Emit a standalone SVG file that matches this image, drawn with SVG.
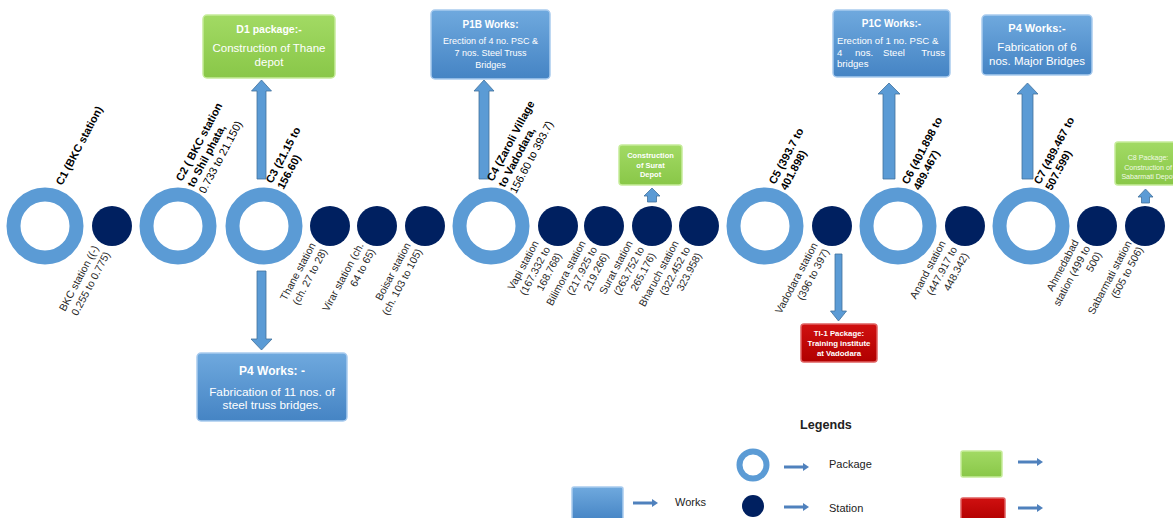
<svg xmlns="http://www.w3.org/2000/svg" width="1173" height="518" viewBox="0 0 1173 518">
<defs>
<linearGradient id="gBlue" x1="0" y1="0" x2="0" y2="1"><stop offset="0" stop-color="#6fa9de"/><stop offset="1" stop-color="#4584c4"/></linearGradient>
<linearGradient id="gGreen" x1="0" y1="0" x2="0" y2="1"><stop offset="0" stop-color="#a2da64"/><stop offset="1" stop-color="#89c748"/></linearGradient>
<linearGradient id="gRed" x1="0" y1="0" x2="0" y2="1"><stop offset="0" stop-color="#d01010"/><stop offset="1" stop-color="#b00000"/></linearGradient>
<style>
.ring{fill:none;stroke:#5b9bd5;stroke-width:14}
.dot{fill:#002060}
.arr{fill:#5b9bd5;stroke:#41719c;stroke-width:0.8}
.la{fill:none;stroke:#4f81bd;stroke-width:3}
.lah{fill:#4f81bd}
.bb{fill:url(#gBlue);stroke:#a9cbee;stroke-width:1.5}
.gb{fill:url(#gGreen);stroke:#c6ec9a;stroke-width:1.5}
.rb{fill:url(#gRed);stroke:#e06060;stroke-width:1.5}
text{font-family:"Liberation Sans",Arial,sans-serif}
.top{font-size:11px;font-weight:bold;fill:#000}
.topr{font-weight:normal}
.st{font-size:10.5px;fill:#262626;text-anchor:end}
.bt{fill:#fff;text-anchor:middle}
.lg{font-size:11px;fill:#222}
</style>
</defs>

<g id="connectors">
<path class="arr" d="M261.5,80 L271.5,91 L266,91 L266,179 L257,179 L257,91 L251.5,91 Z"/>
<path class="arr" d="M261.5,350 L272,339 L266,339 L266,271 L257,271 L257,339 L251,339 Z"/>
<path class="arr" d="M484,80 L494,91 L489,91 L489,179 L479,179 L479,91 L474,91 Z"/>
<path class="arr" d="M889,83 L900,94 L895,94 L895,179 L883,179 L883,94 L878,94 Z"/>
<path class="arr" d="M1027.5,83 L1038,94 L1033,94 L1033,179 L1022,179 L1022,94 L1017,94 Z"/>
<path class="arr" d="M838.5,321 L846.5,311 L842,311 L842,254 L835,254 L835,311 L830.5,311 Z"/>
<path class="arr" d="M652,188 L660,196 L656.5,196 L656.5,202 L647.5,202 L647.5,196 L644,196 Z"/>
<path class="arr" d="M1145.5,189 L1153,197 L1149.5,197 L1149.5,203 L1141.5,203 L1141.5,197 L1138,197 Z"/>
</g>

<g id="C1"><circle class="ring" cx="45" cy="226" r="31.5"/>
<text class="top" transform="translate(62,186) rotate(-62)">C1 (BKC station)</text></g>
<g id="C2"><circle class="ring" cx="178" cy="226" r="31.5"/>
<text class="top" transform="translate(182,182) rotate(-62)"><tspan x="0" y="0">C2 ( BKC station</tspan><tspan x="0" y="13">to Shil phata,</tspan><tspan x="0" y="26" class="topr">0.733 to 21.150)</tspan></text></g>
<g id="C3"><circle class="ring" cx="264" cy="226" r="31.5"/>
<text class="top" transform="translate(272,184) rotate(-62)"><tspan x="0" y="0">C3 (21.15 to</tspan><tspan x="0" y="13">156.60)</tspan></text></g>
<g id="C4"><circle class="ring" cx="491" cy="226" r="31.5"/>
<text class="top" transform="translate(493,182) rotate(-62)"><tspan x="0" y="0">C4 (Zaroli Village</tspan><tspan x="0" y="13">to Vadodara,</tspan><tspan x="0" y="26" class="topr">156.60 to 393.7)</tspan></text></g>
<g id="C5"><circle class="ring" cx="765" cy="226" r="31.5"/>
<text class="top" transform="translate(775,185) rotate(-62)"><tspan x="0" y="0">C5 (393.7 to</tspan><tspan x="0" y="13">401.898)</tspan></text></g>
<g id="C6"><circle class="ring" cx="898" cy="226" r="31.5"/>
<text class="top" transform="translate(908,185) rotate(-62)"><tspan x="0" y="0">C6 (401.898 to</tspan><tspan x="0" y="13">489.467)</tspan></text></g>
<g id="C7"><circle class="ring" cx="1031" cy="226" r="31.5"/>
<text class="top" transform="translate(1040,185) rotate(-62)"><tspan x="0" y="0">C7 (489.467 to</tspan><tspan x="0" y="13">507.599)</tspan></text></g>

<g id="S-BKC"><circle class="dot" cx="112" cy="226" r="20"/>
<text class="st" transform="translate(99,248) rotate(-62)"><tspan x="0" y="0">BKC station ((-)</tspan><tspan x="0" y="13">0.255 to 0.775)</tspan></text></g>
<g id="S-Thane"><circle class="dot" cx="330" cy="226" r="20"/>
<text class="st" transform="translate(316,245) rotate(-62)"><tspan x="0" y="0">Thane station</tspan><tspan x="0" y="13">(ch. 27 to 28)</tspan></text></g>
<g id="S-Virar"><circle class="dot" cx="377" cy="226" r="20"/>
<text class="st" transform="translate(364,245) rotate(-62)"><tspan x="0" y="0">Virar station (ch.</tspan><tspan x="0" y="13">64 to 65)</tspan></text></g>
<g id="S-Boisar"><circle class="dot" cx="425" cy="226" r="20"/>
<text class="st" transform="translate(411,245) rotate(-62)"><tspan x="0" y="0">Boisar station</tspan><tspan x="0" y="13">(ch. 103 to 105)</tspan></text></g>
<g id="S-Vapi"><circle class="dot" cx="558" cy="226" r="20"/>
<text class="st" transform="translate(539,243) rotate(-62)"><tspan x="0" y="0">Vapi station</tspan><tspan x="0" y="13">(167.332 to</tspan><tspan x="0" y="26">168.768)</tspan></text></g>
<g id="S-Bilimora"><circle class="dot" cx="604" cy="226" r="20"/>
<text class="st" transform="translate(586,243) rotate(-62)"><tspan x="0" y="0">Bilimora station</tspan><tspan x="0" y="13">(217.925 to</tspan><tspan x="0" y="26">219.266)</tspan></text></g>
<g id="S-Surat"><circle class="dot" cx="652" cy="226" r="20"/>
<text class="st" transform="translate(633,243) rotate(-62)"><tspan x="0" y="0">Surat station</tspan><tspan x="0" y="13">(263.752 to</tspan><tspan x="0" y="26">265.176)</tspan></text></g>
<g id="S-Bharuch"><circle class="dot" cx="699" cy="226" r="20"/>
<text class="st" transform="translate(679,243) rotate(-62)"><tspan x="0" y="0">Bharuch station</tspan><tspan x="0" y="13">(322.452 to</tspan><tspan x="0" y="26">323.958)</tspan></text></g>
<g id="S-Vadodara"><circle class="dot" cx="832" cy="226" r="20"/>
<text class="st" transform="translate(818,245) rotate(-62)"><tspan x="0" y="0">Vadodara station</tspan><tspan x="0" y="13">(396 to 397)</tspan></text></g>
<g id="S-Anand"><circle class="dot" cx="965" cy="226" r="20"/>
<text class="st" transform="translate(946,243) rotate(-62)"><tspan x="0" y="0">Anand station</tspan><tspan x="0" y="13">(447.917 to</tspan><tspan x="0" y="26">448.342)</tspan></text></g>
<g id="S-Ahmedabad"><circle class="dot" cx="1097" cy="226" r="20"/>
<text class="st" transform="translate(1079,242) rotate(-62)"><tspan x="0" y="0">Ahmedabad</tspan><tspan x="0" y="13">station (499 to</tspan><tspan x="0" y="26">500)</tspan></text></g>
<g id="S-Sabarmati"><circle class="dot" cx="1145" cy="226" r="20"/>
<text class="st" transform="translate(1132,243) rotate(-62)"><tspan x="0" y="0">Sabarmati station</tspan><tspan x="0" y="13">(505 to 506)</tspan></text></g>

<g id="D1"><rect class="gb" x="203" y="15" width="132" height="63" rx="4"/>
<text class="bt" style="font-size:10.5px;font-weight:bold" x="269" y="33">D1 package:-</text>
<text class="bt" style="font-size:11.5px" x="269" y="52">Construction of Thane</text>
<text class="bt" style="font-size:11.5px" x="269" y="66">depot</text></g>

<g id="P1B"><rect class="bb" x="431" y="10" width="119" height="69" rx="4"/>
<text class="bt" style="font-size:10px;font-weight:bold" x="490.5" y="28">P1B Works:</text>
<text class="bt" style="font-size:9px" x="490.5" y="44">Erection of 4 no. PSC &amp;</text>
<text class="bt" style="font-size:9px" x="490.5" y="56">7 nos. Steel Truss</text>
<text class="bt" style="font-size:9px" x="490.5" y="68">Bridges</text></g>

<g id="P1C"><rect class="bb" x="833" y="10" width="117" height="67" rx="4"/>
<text class="bt" style="font-size:10px;font-weight:bold" x="891.5" y="27">P1C Works:-</text>
<text style="font-size:9.6px;fill:#fff" y="44"><tspan x="837">Erection of 1 no. PSC &amp;</tspan></text>
<text style="font-size:9.6px;fill:#fff" y="56"><tspan x="837">4</tspan><tspan x="855">nos.</tspan><tspan x="883">Steel</tspan><tspan x="945" text-anchor="end">Truss</tspan></text>
<text style="font-size:9.6px;fill:#fff" x="837" y="67">bridges</text></g>

<g id="P4-right"><rect class="bb" x="982" y="15" width="110" height="60" rx="4"/>
<text class="bt" style="font-size:11px;font-weight:bold" x="1037" y="32">P4 Works:-</text>
<text class="bt" style="font-size:11.5px" x="1037" y="51">Fabrication of 6</text>
<text class="bt" style="font-size:11.5px" x="1037" y="65">nos. Major Bridges</text></g>

<g id="P4-bottom"><rect class="bb" x="197" y="353" width="150" height="68" rx="4"/>
<text class="bt" style="font-size:12px;font-weight:bold" x="272" y="375">P4 Works: -</text>
<text class="bt" style="font-size:11.8px" x="272" y="396">Fabrication of 11 nos. of</text>
<text class="bt" style="font-size:11.8px" x="272" y="409">steel truss bridges.</text></g>

<g id="Surat-depot"><rect class="gb" x="619" y="145" width="63" height="40" rx="3"/>
<text class="bt" style="font-size:7.5px;font-weight:bold" x="650.5" y="158">Construction</text>
<text class="bt" style="font-size:7.5px;font-weight:bold" x="650.5" y="168">of Surat</text>
<text class="bt" style="font-size:7.5px;font-weight:bold" x="650.5" y="177">Depot</text></g>

<g id="TI-1"><rect class="rb" x="801" y="324" width="76" height="38" rx="3"/>
<text class="bt" style="font-size:7.8px;font-weight:bold" x="839" y="336">TI-1 Package:</text>
<text class="bt" style="font-size:7.8px;font-weight:bold" x="839" y="346">Training institute</text>
<text class="bt" style="font-size:7.8px;font-weight:bold" x="839" y="356">at Vadodara</text></g>

<g id="C8"><rect class="gb" x="1115" y="142" width="66" height="43" rx="3"/>
<text class="bt" style="font-size:7.1px;fill:#f2fae6" x="1148" y="160">C8 Package:</text>
<text class="bt" style="font-size:7.1px;fill:#f2fae6" x="1148" y="170">Construction of</text>
<text class="bt" style="font-size:7.1px;fill:#f2fae6" x="1148" y="179">Sabarmati Depot</text></g>

<g id="legend">
<text x="826" y="429" style="font-size:12.6px;font-weight:bold;fill:#222;text-anchor:middle">Legends</text>
<circle cx="753" cy="465" r="13.5" fill="none" stroke="#5b9bd5" stroke-width="6"/>
<circle class="dot" cx="753" cy="506" r="11"/>
<rect x="572" y="487" width="51" height="34" rx="2" class="bb"/>
<rect x="961" y="451" width="41" height="26" rx="2" class="gb"/>
<rect x="961" y="498" width="44" height="24" rx="2" class="rb"/>
<g>
<line class="la" x1="784" y1="467" x2="805" y2="467"/><path class="lah" d="M803,463 L809,467 L803,471 Z"/>
<line class="la" x1="784" y1="507" x2="805" y2="507"/><path class="lah" d="M803,503 L809,507 L803,511 Z"/>
<line class="la" x1="633" y1="503" x2="654" y2="503"/><path class="lah" d="M652,499 L658,503 L652,507 Z"/>
<line class="la" x1="1018" y1="462" x2="1039" y2="462"/><path class="lah" d="M1037,458 L1043,462 L1037,466 Z"/>
<line class="la" x1="1018" y1="508" x2="1039" y2="508"/><path class="lah" d="M1037,504 L1043,508 L1037,512 Z"/>
</g>
<text class="lg" x="829" y="468">Package</text>
<text class="lg" x="829" y="512">Station</text>
<text class="lg" x="675" y="506">Works</text>
</g>
</svg>
